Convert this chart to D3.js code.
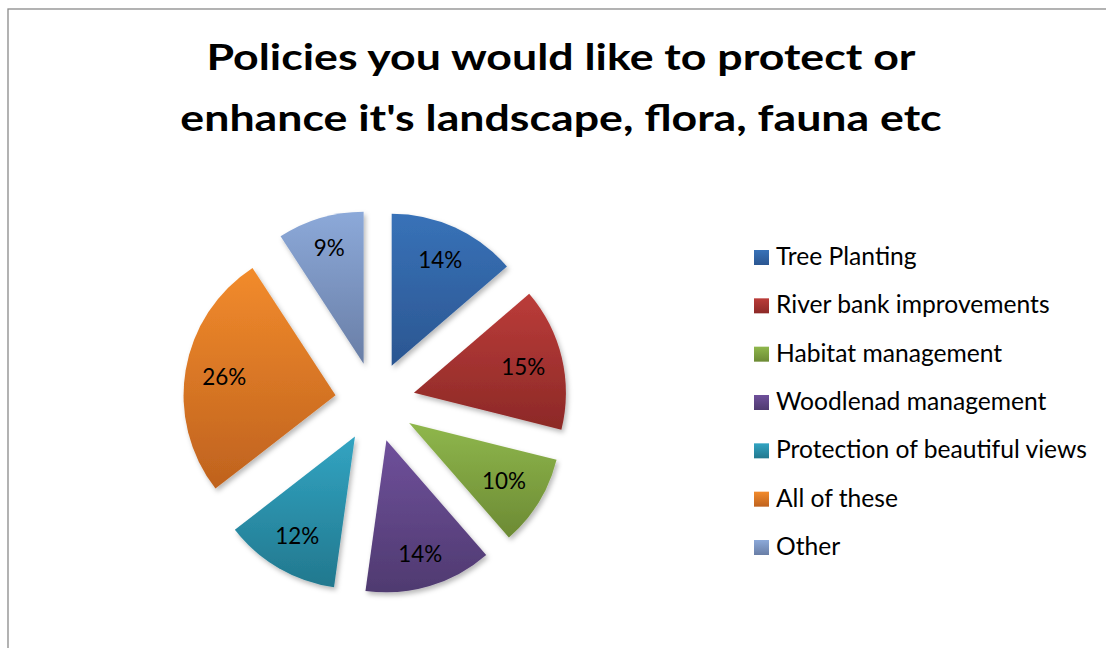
<!DOCTYPE html>
<html>
<head>
<meta charset="utf-8">
<script src="https://cdn.jsdelivr.net/npm/d3@7"></script>
<style>
  body { margin: 0; background: #fff; }
  svg { display: block; }
  text { font-family: Lato, "Open Sans", sans-serif; fill: #000; }
  .title { font-weight: bold; }
</style>
</head>
<body>
<svg id="chart" width="1106" height="648"></svg>
<script>
const width = 1106;
const height = 648;

const titleLines = ["Policies you would like to protect or", "enhance it's landscape, flora, fauna etc"];
const categories = ["Tree Planting", "River bank improvements", "Habitat management",
  "Woodlenad management", "Protection of beautiful views", "All of these", "Other"];
// shares in percent (labels show them rounded)
const values = [13.7, 15.2, 9.7, 13.6, 12.3, 26.3, 9.2];
const colorsTop = ["#3872b8", "#bb3c39", "#8fb74c", "#6f509b", "#32a4c2", "#f28b2c", "#8ca9d9"];
const colorsBottom = ["#2b5691", "#8c2927", "#6c8a34", "#4f3a70", "#22788e", "#bf621e", "#697ea6"];

const cx = 375, cy = 402;
const radius = 152;
const explode = 40;
const labelEdge = 137; // labels sit "inside end": their box touches this circle

const svg = d3.select("#chart");
const defs = svg.append("defs");

// vertical gradient per slice
categories.forEach((c, i) => {
  const g = defs.append("linearGradient")
    .attr("id", "grad" + i)
    .attr("x1", 0).attr("y1", 0).attr("x2", 0).attr("y2", 1);
  g.append("stop").attr("offset", "0%").attr("stop-color", colorsTop[i]);
  g.append("stop").attr("offset", "100%").attr("stop-color", colorsBottom[i]);
});

defs.append("filter").attr("id", "shadow")
  .attr("x", "-20%").attr("y", "-20%").attr("width", "140%").attr("height", "140%")
  .append("feDropShadow")
  .attr("dx", 2).attr("dy", 3).attr("stdDeviation", 2.5)
  .attr("flood-color", "#000").attr("flood-opacity", 0.28);

// chart border (only top and left edges are in frame)
svg.append("rect")
  .attr("x", 8).attr("y", 9)
  .attr("width", 1300).attr("height", 1000)
  .attr("fill", "none")
  .attr("stroke", "#8a8a8a")
  .attr("stroke-width", 1.3);

function measure(str, cls, size) {
  const t = svg.append("text").attr("class", cls).attr("font-size", size).text(str);
  const w = t.node().getComputedTextLength();
  t.remove();
  return w;
}
// fit a text to a target width by its font size
function fitSize(str, target) {
  return 100 * target / measure(str, null, 100);
}

// title: glyphs widened a little to the original's line width
const titleSize = 37;
const titleStretch = 709 / measure(titleLines[0], "title", titleSize);
svg.append("g").selectAll("text")
  .data(titleLines)
  .join("text")
  .attr("class", "title")
  .attr("x", 561)
  .attr("y", (d, i) => 70 + i * 61)
  .attr("text-anchor", "middle")
  .attr("font-size", titleSize)
  .attr("textLength", d => measure(d, "title", titleSize) * titleStretch)
  .attr("lengthAdjust", "spacingAndGlyphs")
  .text(d => d);

// pie
const pie = d3.pie().sort(null).value(d => d.value);
const arcs = pie(categories.map((c, i) => ({ name: c, value: values[i], i })));
const total = d3.sum(values);
const arc = d3.arc().innerRadius(0).outerRadius(radius);

const slices = svg.append("g")
  .attr("transform", `translate(${cx},${cy})`)
  .selectAll("g")
  .data(arcs)
  .join("g")
  .attr("transform", d => {
    const a = (d.startAngle + d.endAngle) / 2;
    return `translate(${explode * Math.sin(a)},${-explode * Math.cos(a)})`;
  });

slices.append("path")
  .attr("d", arc)
  .attr("fill", d => `url(#grad${d.data.i})`)
  .attr("filter", "url(#shadow)");

const labelSize = fitSize("14%", 44);
slices.append("text")
  .attr("text-anchor", "middle")
  .attr("dy", "0.36em")
  .attr("font-size", labelSize)
  .text(d => Math.round(d.data.value / total * 100) + "%")
  .attr("transform", function(d) {
    const a = (d.startAngle + d.endAngle) / 2;
    const ux = Math.sin(a), uy = -Math.cos(a);
    const hw = this.getComputedTextLength() / 2 + 0.5;
    const hh = labelSize * 0.55;
    const r = labelEdge - (hw * Math.abs(ux) + hh * Math.abs(uy));
    return `translate(${r * ux},${r * uy})`;
  });

// legend
const legendSize = fitSize("Protection of beautiful views", 311);
const legendY = d3.scalePoint().domain(categories).range([265, 555]);
const legend = svg.append("g").selectAll("g")
  .data(categories)
  .join("g")
  .attr("transform", d => `translate(754,${legendY(d)})`);

legend.append("rect")
  .attr("x", 0).attr("y", -15)
  .attr("width", 15).attr("height", 15)
  .attr("fill", (d, i) => `url(#grad${i})`);

legend.append("text")
  .attr("x", 22)
  .attr("y", 0)
  .attr("font-size", legendSize)
  .text(d => d);
</script>
</body>
</html>
